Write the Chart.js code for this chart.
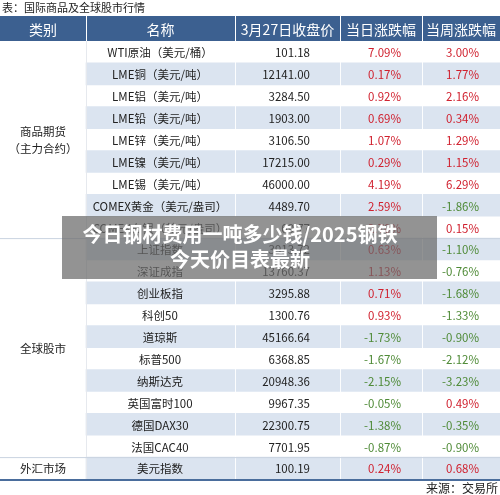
<!DOCTYPE html>
<html><head><meta charset="utf-8">
<script src="https://cdn.jsdelivr.net/npm/chart.js@4"></script>
<style>html,body{margin:0;padding:0;background:#fff}#w{width:500px;height:495px;position:relative}</style>
</head><body><div id="w"><canvas id="c"></canvas></div>
<script>
const headers=["类别","名称","3月27日收盘价","当日涨跌幅","当周涨跌幅"];
const names=["WTI原油（美元/桶）","LME铜（美元/吨）","LME铝（美元/吨）","LME铅（美元/吨）","LME锌（美元/吨）","LME镍（美元/吨）","LME锡（美元/吨）","COMEX黄金（美元/盎司）","COMEX白银（美元/盎司）","上证指数","深证成指","创业板指","科创50","道琼斯","标普500","纳斯达克","英国富时100","德国DAX30","法国CAC40","美元指数"];
const prices=["101.18","12141.00","3284.50","1903.00","3106.50","17215.00","46000.00","4489.70","69.77","3913.72","13760.37","3295.88","1300.76","45166.64","6368.85","20948.36","9967.35","22300.75","7701.95","100.19"];
const dayChg=[7.09,0.17,0.92,0.69,1.07,0.29,4.19,2.59,2.70,0.63,1.13,0.71,0.93,-1.73,-1.67,-2.15,-0.05,-1.38,-0.87,0.24];
const weekChg=[3.00,1.77,2.16,0.34,1.29,1.15,6.29,-1.86,0.15,-1.10,-0.76,-1.68,-1.33,-0.90,-2.12,-3.23,0.49,-0.35,-0.90,0.68];
const groups=[["商品期货","（主力合约）",0,8],["全球股市","",9,18],["外汇市场","",19,19]];
const colEdges=[0,86,235,340,422,500];
const shade=names.map((n,i)=>i%2?[86,500]:null);

const tablePlugin={id:'tbl',afterDatasetsDraw(ch){
 const c=ch.ctx,x=ch.scales.x,y=ch.scales.y;
 const rh=y.getPixelForValue(1)-y.getPixelForValue(0);
 const top=y.getPixelForValue(0)-rh/2, bot=y.getPixelForValue(names.length-1)+rh/2;
 c.save();
 // title
 c.fillStyle='#222';c.font='11px "Noto Sans CJK SC"';c.textBaseline='middle';c.textAlign='left';
 c.fillText("表：国际商品及全球股市行情",2,8);
 // header
 c.fillStyle='#3c6090';c.fillRect(0,16,500,top-16);
 c.strokeStyle='#fff';c.lineWidth=1;
 for(let k=1;k<5;k++){const px=x.getPixelForValue(colEdges[k]);c.beginPath();c.moveTo(px+0.5,16);c.lineTo(px+0.5,top);c.stroke();}
 c.fillStyle='#fff';c.font='14px "Noto Sans CJK SC"';c.textAlign='center';
 headers.forEach((h,k)=>c.fillText(h,(x.getPixelForValue(colEdges[k])+x.getPixelForValue(colEdges[k+1]))/2,(16+top)/2+1));
 // column dividers in body
 c.strokeStyle='rgba(255,255,255,0.9)';
 for(let k=2;k<5;k++){const px=x.getPixelForValue(colEdges[k]);c.beginPath();c.moveTo(px+0.5,top);c.lineTo(px+0.5,bot);c.stroke();}
 c.strokeStyle='#e6e9ee';
 {const px=x.getPixelForValue(86);c.beginPath();c.moveTo(px+0.5,top);c.lineTo(px+0.5,bot);c.stroke();}
 // cells
 c.font='11.5px "Noto Sans CJK SC"';
 names.forEach((n,i)=>{
  const py=y.getPixelForValue(i)+1;
  c.fillStyle='#222';c.textAlign='center';c.fillText(n,x.getPixelForValue(160),py);
  c.textAlign='right';c.fillText(prices[i],x.getPixelForValue(310),py);
  c.fillStyle=dayChg[i]>=0?'#d0202e':'#4e8a36';c.fillText(dayChg[i].toFixed(2)+'%',x.getPixelForValue(401),py);
  c.fillStyle=weekChg[i]>=0?'#d0202e':'#4e8a36';c.fillText(weekChg[i].toFixed(2)+'%',x.getPixelForValue(479),py);
 });
 // groups
 groups.forEach(([a,b,s,e],gi)=>{
  const y0=y.getPixelForValue(s)-rh/2,y1=y.getPixelForValue(e)+rh/2,cy=(y0+y1)/2;
  c.fillStyle='#222';c.textAlign='center';
  if(b){c.fillText(a,43,cy-8);c.fillText(b,43,cy+9);}else c.fillText(a,43,cy+1);
  if(gi>0){c.strokeStyle='#c9d3e0';c.beginPath();c.moveTo(0,y0+0.5);c.lineTo(500,y0+0.5);c.stroke();}
 });
 c.strokeStyle='#4a6d9c';c.lineWidth=2;c.beginPath();c.moveTo(0,bot+1);c.lineTo(500,bot+1);c.stroke();
 c.fillStyle='#222';c.font='12px "Noto Sans CJK SC"';c.textAlign='right';c.fillText("来源：交易所",498,488);
 // overlay
 c.fillStyle='rgba(105,105,105,0.72)';c.fillRect(62,216,375,63);
 c.fillStyle='#fff';c.font='bold 20px "Noto Sans CJK SC"';c.textAlign='center';
 c.fillText("今日钢材费用一吨多少钱/2025钢铁",240,234);c.fillText("今天价目表最新",240,259);
 c.restore();
}};

new Chart(document.getElementById('c'),{
 type:'bar',
 data:{labels:names,datasets:[{data:shade,backgroundColor:'#dbe4f0',borderWidth:0,barPercentage:1,categoryPercentage:1}]},
 options:{indexAxis:'y',responsive:true,maintainAspectRatio:false,animation:false,
  layout:{padding:{top:41,bottom:16,left:0,right:0}},
  plugins:{legend:{display:false},tooltip:{enabled:false}},
  scales:{x:{type:'linear',min:0,max:500,display:false},y:{display:false,grid:{display:false}}}},
 plugins:[tablePlugin]
});
</script></body></html>
